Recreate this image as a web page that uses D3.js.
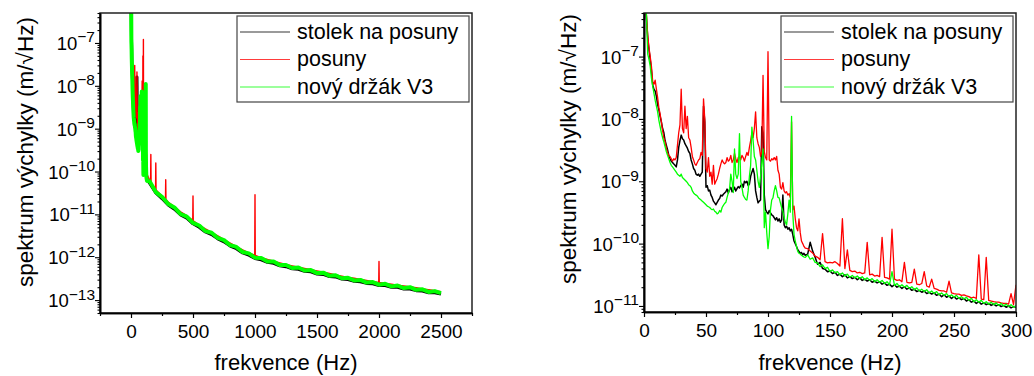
<!DOCTYPE html>
<html><head><meta charset="utf-8">
<script src="https://cdn.jsdelivr.net/npm/d3@7"></script>
<style>
body{margin:0;background:#fff}
svg{display:block}
text{font-family:"Liberation Sans",Arial,sans-serif;fill:#000}
</style>
</head><body>
<svg id="c" width="1034" height="376"></svg>
<script>
// ---------------- DATA ----------------
const seriesNames = ["stolek na posuny", "posuny", "nový držák V3"];
const seriesColors = ["#000000", "#ff0000", "#00ff00"];
const legendColors = ["#9a9a9a", "#ff3b3b", "#3bff3b"];

// low-frequency sampling grid (Hz), 1 Hz bins
const lowFreq = d3.range(1, 131, 1);
// spectrum (m/√Hz), 1..130 Hz
const lowBlack = [1e-6,4e-7,2e-7,1.3e-7,9e-8,6e-8,3.5e-8,3e-8,2.8e-8,2.3e-8,
1.7e-8,1.4e-8,1.1e-8,9e-9,7e-9,6e-9,4.5e-9,3.8e-9,3.2e-9,2.6e-9,
2.3e-9,2.1e-9,2e-9,1.9e-9,1.8e-9,1.7e-9,2.2e-9,3.5e-9,4.5e-9,5.5e-9,
4.8e-9,4.6e-9,4e-9,3.7e-9,3.4e-9,3e-9,2.8e-9,2.2e-9,1.9e-9,1.6e-9,
1.5e-9,1.3e-9,1.25e-9,1.3e-9,1.2e-9,1.3e-9,1.4e-9,1.6e-8,9e-9,8e-10,
8.5e-10,7e-10,7.2e-10,6e-10,5.5e-10,4.8e-10,4.5e-10,4.2e-10,4.6e-10,5e-10,
5.3e-10,6e-10,5.8e-10,6.2e-10,6.5e-10,6.8e-10,7.5e-10,6.5e-10,7.4e-10,8e-10,
6.8e-10,7.2e-10,8e-10,7e-10,7.6e-10,8.2e-10,7.8e-10,8.5e-10,9e-10,8e-10,
1e-9,9.5e-10,1e-9,8.5e-10,9e-10,1.2e-9,1.4e-9,1.6e-9,1.3e-9,7e-10,
5.5e-10,4.5e-10,4.8e-10,5e-10,7.5e-9,6e-9,6e-10,3.5e-10,3.2e-10,3e-10,
3.4e-10,3.1e-10,2.9e-10,2.8e-10,2.6e-10,2.4e-10,2.6e-10,2.3e-10,2.5e-10,2.2e-10,
2.4e-10,6e-10,2e-10,1.8e-10,1.9e-10,1.7e-10,1.8e-10,1.6e-10,1.7e-10,1.4e-10,
1.1e-10,1e-10,9e-11,8e-11,7.5e-11,7e-11,7.2e-11,6.6e-11,7e-11,6.5e-11];
const lowRed = [1e-6,4.5e-7,2.2e-7,1.4e-7,1e-7,7e-8,4e-8,3.6e-8,4.2e-8,3e-8,
2.2e-8,1.5e-8,1.2e-8,9e-9,6.5e-9,5e-9,4.3e-9,3.4e-9,2.9e-9,2.6e-9,
2.5e-9,2.3e-9,2.1e-9,2.3e-9,2.2e-9,2.4e-9,3.8e-9,6e-9,8e-9,3e-8,
7e-9,6e-9,1.6e-8,7e-9,1.1e-8,5e-9,4.6e-9,3.5e-9,2.5e-9,2.2e-9,
1.9e-9,1.8e-9,2e-9,2.2e-9,2.3e-9,2.9e-9,2.6e-9,2.1e-8,1e-8,1.6e-9,
1.4e-9,2.4e-9,1.2e-9,1.4e-9,9e-10,1.8e-9,9e-10,1e-9,1.1e-9,1.3e-9,
1.6e-9,1.9e-9,2.2e-9,2e-9,1.9e-9,2e-9,2.4e-9,2.1e-9,2.2e-9,2.6e-9,
2e-9,2.2e-9,2.8e-9,2.3e-9,2e-9,2.4e-9,2.5e-9,2.2e-9,2.6e-9,2.4e-9,
2.1e-9,2.5e-9,2.9e-9,2.6e-9,3.5e-9,4.5e-9,6e-9,5e-9,7e-9,1.3e-8,
5e-9,4e-9,3.5e-9,2.5e-9,3e-9,5e-8,3e-9,2.4e-9,2.2e-9,1.2e-7,
2.2e-9,2.1e-9,2.3e-9,2.2e-9,2.4e-9,2.2e-9,2.5e-9,1.5e-9,1.3e-9,8e-10,
7.5e-10,9.5e-10,7e-10,6.5e-10,6.8e-10,6e-10,6.3e-10,5.5e-10,9e-9,3.5e-10,
4e-10,2.5e-10,1.8e-10,1.6e-10,2.5e-10,1.5e-10,1.1e-10,1e-10,9e-11,8.5e-11];
const lowGreen = [1e-6,4.5e-7,1.1e-7,9e-8,7e-8,4.5e-8,3.4e-8,2.6e-8,2e-8,1.6e-8,
1.3e-8,9.5e-9,7.5e-9,6e-9,5e-9,4.3e-9,3.6e-9,3e-9,2.6e-9,2.3e-9,
2e-9,1.8e-9,1.7e-9,1.6e-9,1.5e-9,1.4e-9,1.3e-9,1.25e-9,1.2e-9,1.3e-9,
1.15e-9,1.1e-9,1.05e-9,1e-9,9.5e-10,8.8e-10,8.5e-10,8e-10,7e-10,6.5e-10,
6.2e-10,6e-10,5.8e-10,5.4e-10,5.2e-10,5e-10,4.8e-10,4.6e-10,4.4e-10,4.2e-10,
4e-10,3.9e-10,3.8e-10,3.6e-10,3.5e-10,3.6e-10,3.3e-10,3.2e-10,3e-10,3.1e-10,
3.4e-10,3.2e-10,3.8e-10,4.1e-10,4.4e-10,4.6e-10,5.5e-10,6.5e-10,7.5e-10,1.3e-9,
1e-9,6.6e-10,3.3e-9,1.3e-9,1.1e-9,1.3e-9,5.8e-9,1e-9,8e-10,6e-10,
5.5e-10,5.1e-10,5e-10,7e-10,1.2e-9,1.8e-9,7.4e-9,4.5e-9,2.5e-9,2.2e-9,
1.5e-9,1e-9,8e-10,1.2e-9,2e-9,3.3e-9,1.8e-10,3.2e-10,1.5e-10,8.3e-11,
1.3e-10,3.5e-10,5e-10,5.4e-10,7e-10,8.5e-10,7e-10,5.5e-10,5.4e-10,4.5e-10,
3.8e-10,3.3e-10,2.6e-10,2.2e-10,2e-10,3e-10,5e-10,3.2e-10,1.1e-8,3e-10,
1.4e-10,1.1e-10,9e-11,7.5e-11,7e-11,6.8e-11,6.5e-11,6.3e-11,6.1e-11,6e-11];

// right panel tail: 132..300 Hz, 2 Hz bins
const rightTailFreq = d3.range(132, 301, 2);
const rightTailBlack = [6.76e-11,1.05e-10,7.59e-11,6.03e-11,4.68e-11,5.01e-11,3.98e-11,3.89e-11,3.55e-11,3.63e-11,
3.31e-11,3.47e-11,3.09e-11,3.24e-11,2.95e-11,3.16e-11,2.82e-11,2.95e-11,2.75e-11,2.88e-11,
2.63e-11,2.82e-11,2.57e-11,2.69e-11,2.51e-11,2.63e-11,2.4e-11,2.51e-11,2.34e-11,2.45e-11,
2.24e-11,2.34e-11,2.14e-11,2.24e-11,2.04e-11,2.19e-11,2e-11,2.09e-11,1.91e-11,2.04e-11,
1.86e-11,1.95e-11,1.78e-11,1.86e-11,1.7e-11,1.78e-11,1.66e-11,1.74e-11,1.58e-11,1.66e-11,
1.55e-11,1.62e-11,1.48e-11,1.55e-11,1.41e-11,1.51e-11,1.38e-11,1.45e-11,1.32e-11,1.41e-11,
1.29e-11,1.35e-11,1.26e-11,1.32e-11,1.2e-11,1.26e-11,1.15e-11,1.2e-11,1.1e-11,1.17e-11,
1.07e-11,1.12e-11,1.05e-11,1.1e-11,1.02e-11,1.07e-11,1e-11,1.05e-11,9.77e-12,1.02e-11,
9.55e-12,1e-11,9.33e-12,9.77e-12,9.55e-12];
const rightTailRed = [8.32e-11,7.59e-11,7.08e-11,6.31e-11,6.03e-11,5.5e-11,1.45e-10,5.13e-11,4.9e-11,5.01e-11,
4.9e-11,5.13e-11,4.79e-11,4.37e-11,2.51e-10,3.98e-11,7.94e-11,3.72e-11,3.55e-11,3.63e-11,
3.39e-11,3.47e-11,3.31e-11,3.39e-11,1.05e-10,3.16e-11,3.24e-11,3.02e-11,3.09e-11,2.95e-11,
1.26e-10,2.88e-11,2.82e-11,2.69e-11,1.7e-10,2.69e-11,2.57e-11,2.63e-11,2.45e-11,5.01e-11,
2.4e-11,2.34e-11,2.4e-11,3.89e-11,2.24e-11,2.19e-11,2.29e-11,3.55e-11,2.09e-11,2e-11,
2.69e-11,1.91e-11,1.86e-11,1.78e-11,1.74e-11,1.74e-11,1.66e-11,2.51e-11,1.62e-11,1.58e-11,
1.55e-11,1.55e-11,1.48e-11,1.51e-11,1.45e-11,1.41e-11,1.35e-11,1.38e-11,1.32e-11,6.61e-11,
1.29e-11,1.26e-11,6.03e-11,1.23e-11,1.2e-11,1.17e-11,1.15e-11,1.15e-11,1.12e-11,1.1e-11,
1.1e-11,1.07e-11,1.58e-11,1.05e-11,2.19e-11];
const rightTailGreen = [6.61e-11,5.62e-11,5.9e-11,5.01e-11,4.9e-11,4.27e-11,4.57e-11,3.98e-11,4.17e-11,3.55e-11,
3.8e-11,3.39e-11,3.55e-11,3.16e-11,3.39e-11,3.02e-11,3.24e-11,2.88e-11,3.09e-11,2.82e-11,
3.02e-11,2.75e-11,2.95e-11,2.63e-11,2.82e-11,2.57e-11,2.75e-11,2.45e-11,2.63e-11,2.4e-11,
2.57e-11,2.29e-11,2.45e-11,2.19e-11,3.55e-11,2.14e-11,2.29e-11,2.04e-11,2.19e-11,2e-11,
2.14e-11,1.91e-11,2.04e-11,1.82e-11,1.95e-11,1.74e-11,1.86e-11,1.7e-11,1.82e-11,1.62e-11,
1.74e-11,1.58e-11,1.7e-11,1.51e-11,1.62e-11,1.48e-11,1.58e-11,1.41e-11,1.51e-11,1.38e-11,
1.48e-11,1.32e-11,1.41e-11,1.29e-11,1.38e-11,1.23e-11,1.32e-11,1.17e-11,1.26e-11,1.15e-11,
1.23e-11,1.1e-11,1.17e-11,1.07e-11,1.15e-11,1.05e-11,1.12e-11,1.02e-11,1.1e-11,1e-11,
1.07e-11,9.77e-12,1.05e-11,9.55e-12,1.02e-11];

// left panel tail: 150..2500 Hz, 50 Hz bins
const leftTailFreq = d3.range(150, 2501, 50);
const leftTailBlack = [5.37e-11,3.16e-11,2.34e-11,1.66e-11,1.32e-11,9.77e-12,8.13e-12,6.03e-12,5.01e-12,3.89e-12,
3.39e-12,2.69e-12,2.29e-12,1.82e-12,1.58e-12,1.26e-12,1.12e-12,9.33e-13,8.71e-13,7.59e-13,
7.24e-13,6.31e-13,6.03e-13,5.37e-13,5.25e-13,4.68e-13,4.57e-13,4.07e-13,3.98e-13,3.55e-13,
3.47e-13,3.09e-13,3.02e-13,2.75e-13,2.69e-13,2.45e-13,2.4e-13,2.19e-13,2.19e-13,2e-13,
2e-13,1.82e-13,1.82e-13,1.66e-13,1.62e-13,1.48e-13,1.48e-13,1.38e-13];
const leftTailGreen = [5.9e-11,3.31e-11,2.57e-11,1.74e-11,1.45e-11,1.02e-11,8.91e-12,6.31e-12,5.5e-12,4.07e-12,
3.72e-12,2.82e-12,2.51e-12,1.91e-12,1.74e-12,1.32e-12,1.23e-12,9.77e-13,9.55e-13,7.94e-13,
7.94e-13,6.61e-13,6.61e-13,5.62e-13,5.75e-13,4.9e-13,5.01e-13,4.27e-13,4.37e-13,3.72e-13,
3.8e-13,3.24e-13,3.31e-13,2.88e-13,2.95e-13,2.57e-13,2.63e-13,2.29e-13,2.4e-13,2.09e-13,
2.19e-13,1.91e-13,2e-13,1.74e-13,1.78e-13,1.55e-13,1.62e-13,1.45e-13];
const leftTailRedFreq = [150,158,160,162,198,200,202,250,278,280,282,300,350,400,450,498,500,502,
550,600,650,700,750,800,850,900,950,998,1000,1002,1050,1100,1150,1200,1250,1300,1350,1400,1450,
1500,1550,1600,1650,1700,1750,1800,1850,1900,1950,1998,2000,2002,2050,2100,2150,2200,2250,2300,
2350,2400,2450,2500];
const leftTailRed = [6.31e-11,5.62e-11,2.51e-10,5.37e-11,3.8e-11,1.58e-10,3.72e-11,2.69e-11,
2.29e-11,6.46e-11,2.24e-11,1.95e-11,1.51e-11,1.15e-11,9.33e-12,7.24e-12,2.69e-11,7.08e-12,
5.62e-12,4.57e-12,3.8e-12,3.16e-12,2.57e-12,2.14e-12,1.78e-12,1.48e-12,1.26e-12,
1.12e-12,2.88e-11,1.1e-12,
9.77e-13,8.91e-13,8.13e-13,7.41e-13,6.76e-13,6.31e-13,5.89e-13,5.5e-13,5.13e-13,4.79e-13,
4.47e-13,4.17e-13,3.89e-13,3.63e-13,3.39e-13,3.24e-13,3.02e-13,2.88e-13,2.69e-13,
2.57e-13,7.94e-13,2.57e-13,
2.45e-13,2.34e-13,2.24e-13,2.14e-13,2.04e-13,1.95e-13,1.82e-13,1.74e-13,1.66e-13,1.58e-13];

// tick labels
const leftXTicks = [0, 500, 1000, 1500, 2000, 2500];
const leftXMinor = [-250, 250, 750, 1250, 1750, 2250, 2750];
const rightXTicks = [0, 50, 100, 150, 200, 250, 300];
const rightXMinor = [25, 75, 125, 175, 225, 275];
const leftYExp = [-13, -12, -11, -10, -9, -8, -7];
const rightYExp = [-11, -10, -9, -8, -7];
const xTitle = "frekvence (Hz)";
const yTitle = "spektrum výchylky (m/√Hz)";

// ---------------- DRAW ----------------
const svg = d3.select("#c");
const FONT = '"Liberation Sans",Arial,sans-serif';

const panels = [
  {id:"L", left:100, right:472, top:13, bottom:313, xDomain:[-250,2750], yDomain:[5e-14,5e-7],
   xTicks:leftXTicks, xMinor:leftXMinor, yExp:leftYExp, legX:237, yTitleX:33, yTitleY:152,
   widths:[3,1.4,4],
   series:[
     {f:lowFreq.concat(leftTailFreq), v:lowBlack.concat(leftTailBlack)},
     {f:lowFreq.concat(leftTailRedFreq), v:lowRed.concat(leftTailRed)},
     {f:lowFreq.concat(leftTailFreq), v:lowGreen.concat(leftTailGreen)}]},
  {id:"R", left:644, right:1016, top:13, bottom:312, xDomain:[0,300], yDomain:[8e-12,5e-7],
   xTicks:rightXTicks, xMinor:rightXMinor, yExp:rightYExp, legX:781, yTitleX:576, yTitleY:149,
   widths:[1.5,1.3,1.3],
   series:[
     {f:lowFreq.concat(rightTailFreq), v:lowBlack.concat(rightTailBlack)},
     {f:lowFreq.concat(rightTailFreq), v:lowRed.concat(rightTailRed)},
     {f:lowFreq.concat(rightTailFreq), v:lowGreen.concat(rightTailGreen)}]}
];

panels.forEach(p => {
  const x = d3.scaleLinear().domain(p.xDomain).range([p.left, p.right]);
  const y = d3.scaleLog().domain(p.yDomain).range([p.bottom, p.top]);
  const g = svg.append("g");
  const clipId = "clip" + p.id;
  svg.append("clipPath").attr("id", clipId).append("rect")
    .attr("x", p.left).attr("y", p.top).attr("width", p.right - p.left).attr("height", p.bottom - p.top);

  const line = d3.line().x(d => x(d[0])).y(d => y(d[1]));
  p.series.forEach((s, i) => {
    g.append("path").datum(d3.zip(s.f, s.v))
      .attr("clip-path", `url(#${clipId})`)
      .attr("d", line).attr("fill", "none")
      .attr("stroke", seriesColors[i]).attr("stroke-width", p.widths[i])
      .attr("stroke-linejoin", "round");
  });

  // frame
  g.append("rect").attr("x", p.left).attr("y", p.top)
    .attr("width", p.right - p.left).attr("height", p.bottom - p.top)
    .attr("fill", "none").attr("stroke", "#222").attr("stroke-width", 1.5);

  // x axis
  const gx = g.append("g").attr("transform", `translate(0,${p.bottom})`)
    .call(d3.axisBottom(x).tickValues(p.xTicks).tickSize(5).tickSizeOuter(0).tickFormat(d3.format("d")));
  const gxm = g.append("g").attr("transform", `translate(0,${p.bottom})`)
    .call(d3.axisBottom(x).tickValues(p.xMinor).tickSize(3).tickSizeOuter(0).tickFormat(""));
  [gx, gxm].forEach(a => {
    a.select(".domain").attr("stroke", "#000").attr("stroke-width", 1.6);
    a.selectAll(".tick line").attr("stroke", "#000").attr("stroke-width", 1.2);
  });
  gx.selectAll(".tick text").attr("y", 25).attr("dy", null)
    .attr("font-size", 19).attr("font-family", FONT).attr("fill", "#000");

  // y axis
  const majors = p.yExp.map(e => Math.pow(10, e));
  const minors = y.ticks().filter(v => {
    const l = Math.log10(v);
    return Math.abs(l - Math.round(l)) > 1e-6;
  });
  const gy = g.append("g").attr("transform", `translate(${p.left},0)`)
    .call(d3.axisLeft(y).tickValues(majors).tickSize(5).tickSizeOuter(0).tickFormat(""));
  const gym = g.append("g").attr("transform", `translate(${p.left},0)`)
    .call(d3.axisLeft(y).tickValues(minors).tickSize(2.5).tickSizeOuter(0).tickFormat(""));
  [gy, gym].forEach(a => {
    a.select(".domain").attr("stroke", "#000").attr("stroke-width", 1.6);
    a.selectAll(".tick line").attr("stroke", "#000").attr("stroke-width", 1.1);
  });
  p.yExp.forEach(e => {
    const t = g.append("text").attr("x", p.left - 5).attr("y", y(Math.pow(10, e)) + 7)
      .attr("text-anchor", "end");
    t.append("tspan").attr("font-size", 18.5).text("10");
    t.append("tspan").attr("font-size", 15.5).attr("dy", -7.5).text("\u2212" + String(-e));
  });

  // titles
  g.append("text").attr("x", (p.left + p.right) / 2).attr("y", 370)
    .attr("text-anchor", "middle").attr("font-size", 22).text(xTitle);
  g.append("text").attr("transform", `translate(${p.yTitleX},${p.yTitleY}) rotate(-90)`)
    .attr("text-anchor", "middle").attr("font-size", 22.5).text(yTitle);

  // legend
  const lg = g.append("g");
  lg.append("rect").attr("x", p.legX).attr("y", 16).attr("width", 232).attr("height", 86)
    .attr("fill", "#fff").attr("stroke", "#444").attr("stroke-width", 1.2);
  const rowY = [32, 59.5, 87];
  seriesNames.forEach((n, i) => {
    lg.append("line").attr("x1", p.legX + 3).attr("x2", p.legX + 53)
      .attr("y1", rowY[i]).attr("y2", rowY[i])
      .attr("stroke", legendColors[i]).attr("stroke-width", i === 0 ? 2 : 1.2);
    lg.append("text").attr("x", p.legX + 60).attr("y", rowY[i] + 6.5)
      .attr("font-size", 21.5).text(n);
  });
});
</script>
</body></html>
